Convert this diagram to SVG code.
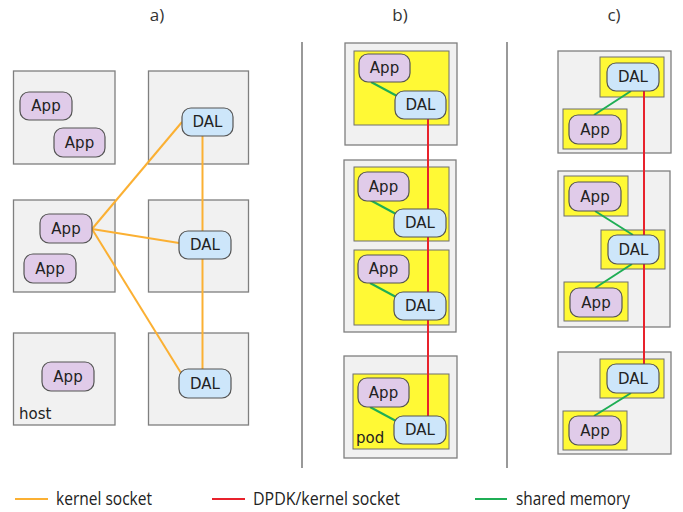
<svg xmlns="http://www.w3.org/2000/svg" width="683" height="512" viewBox="0 0 683 512">
  <style>
    .host { fill: #f1f1f1; stroke: #7f7f7f; stroke-width: 1.3; }
    .pod { fill: #fff935; stroke: #6f6f6f; stroke-width: 1; }
    .app { fill: #e0cbe9; stroke: #555; stroke-width: 1.2; }
    .dal { fill: #cde6fa; stroke: #555; stroke-width: 1.2; }
    .lbl { font-family: "DejaVu Sans", sans-serif; font-size: 15px; fill: #222; }
    .nl { font-family: "DejaVu Sans", sans-serif; font-size: 15px; fill: #222; text-anchor: middle; dominant-baseline: central; }
    .title { font-family: "Open Sans", "Liberation Sans", sans-serif; font-size: 17px; fill: #333; text-anchor: middle; }
    .leg { font-family: "Open Sans", "Liberation Sans", sans-serif; font-size: 18px; fill: #222; }
    .k { stroke: #fbb033; stroke-width: 2; fill: none; }
    .d { stroke: #e8222c; stroke-width: 2; fill: none; }
    .s { stroke: #1fae55; stroke-width: 2; fill: none; }
    .sep { stroke: #555; stroke-width: 1.2; }
  </style>

  <!-- panel titles -->
  <text class="title" x="157" y="21">a)</text>
  <text class="title" x="400" y="21">b)</text>
  <text class="title" x="614" y="21">c)</text>

  <!-- panel separators -->
  <line class="sep" x1="302" y1="42" x2="302" y2="468"/>
  <line class="sep" x1="507" y1="42" x2="507" y2="468"/>

  <!-- ===== panel a: hosts ===== -->
  <g id="a-host1"><rect class="host" x="13.5" y="71" width="101.5" height="93"/></g>
  <g id="a-host2"><rect class="host" x="13.5" y="200" width="101.5" height="92"/></g>
  <g id="a-host3"><rect class="host" x="13.5" y="333" width="101.5" height="92"/>
    <text class="lbl" x="19" y="419">host</text></g>
  <g id="a-host4"><rect class="host" x="148.5" y="71" width="100" height="93"/></g>
  <g id="a-host5"><rect class="host" x="148.5" y="200" width="100" height="92"/></g>
  <g id="a-host6"><rect class="host" x="148.5" y="333" width="100" height="92"/></g>

  <!-- panel a connectors (kernel socket) -->
  <g id="a-links">
    <line class="k" x1="92" y1="229" x2="182" y2="122"/>
    <line class="k" x1="92" y1="229" x2="179" y2="243"/>
    <line class="k" x1="92" y1="229" x2="181" y2="373"/>
    <line class="k" x1="202.5" y1="136" x2="202.5" y2="369"/>
  </g>

  <g id="a-app1"><rect class="app" x="20" y="92" width="52" height="28" rx="9"/><text class="nl" x="46" y="106">App</text></g>
  <g id="a-app2"><rect class="app" x="54" y="128" width="51" height="29" rx="9"/><text class="nl" x="79.5" y="142.5">App</text></g>
  <g id="a-app3"><rect class="app" x="40" y="214" width="52" height="29" rx="9"/><text class="nl" x="66" y="228.5">App</text></g>
  <g id="a-app4"><rect class="app" x="24" y="254" width="52" height="29" rx="9"/><text class="nl" x="50" y="268.5">App</text></g>
  <g id="a-app5"><rect class="app" x="42" y="362" width="52" height="29" rx="9"/><text class="nl" x="68" y="376.5">App</text></g>
  <g id="a-dal1"><rect class="dal" x="182" y="108" width="51" height="28" rx="9"/><text class="nl" x="207.5" y="122">DAL</text></g>
  <g id="a-dal2"><rect class="dal" x="179" y="231" width="52" height="28" rx="9"/><text class="nl" x="205" y="245">DAL</text></g>
  <g id="a-dal3"><rect class="dal" x="179" y="369" width="52" height="29" rx="9"/><text class="nl" x="205" y="383.5">DAL</text></g>

  <!-- ===== panel b: hosts with pods ===== -->
  <g id="b-host1"><rect class="host" x="345" y="43" width="112" height="102"/>
    <rect class="pod" x="354" y="51" width="95" height="74"/></g>
  <g id="b-host2"><rect class="host" x="344" y="160" width="112" height="172"/>
    <rect class="pod" x="354" y="167" width="95" height="74"/>
    <rect class="pod" x="354" y="250" width="95" height="75"/></g>
  <g id="b-host3"><rect class="host" x="344" y="356" width="113" height="102"/>
    <rect class="pod" x="353" y="374" width="96" height="75"/>
    <text class="lbl" x="356" y="443">pod</text></g>

  <!-- panel b connectors -->
  <g id="b-links">
    <line class="d" x1="428" y1="119" x2="428" y2="416"/>
    <line class="s" x1="371" y1="82" x2="397" y2="96"/>
    <line class="s" x1="370" y1="200" x2="396" y2="214"/>
    <line class="s" x1="370" y1="283" x2="396" y2="297"/>
    <line class="s" x1="370" y1="407" x2="396" y2="421"/>
  </g>

  <g id="b-app1"><rect class="app" x="359" y="54" width="51" height="28" rx="9"/><text class="nl" x="384.5" y="68">App</text></g>
  <g id="b-dal1"><rect class="dal" x="395" y="91" width="51" height="28" rx="9"/><text class="nl" x="420.5" y="105">DAL</text></g>
  <g id="b-app2"><rect class="app" x="358" y="172" width="51" height="29" rx="9"/><text class="nl" x="383.5" y="186.5">App</text></g>
  <g id="b-dal2"><rect class="dal" x="394" y="209" width="52" height="28" rx="9"/><text class="nl" x="420" y="223">DAL</text></g>
  <g id="b-app3"><rect class="app" x="358" y="255" width="51" height="28" rx="9"/><text class="nl" x="383.5" y="269">App</text></g>
  <g id="b-dal3"><rect class="dal" x="394" y="292" width="52" height="28" rx="9"/><text class="nl" x="420" y="306">DAL</text></g>
  <g id="b-app4"><rect class="app" x="358" y="378" width="51" height="29" rx="9"/><text class="nl" x="383.5" y="392.5">App</text></g>
  <g id="b-dal4"><rect class="dal" x="394" y="416" width="52" height="28" rx="9"/><text class="nl" x="420" y="430">DAL</text></g>

  <!-- ===== panel c: one pod per container ===== -->
  <g id="c-host1"><rect class="host" x="558" y="51" width="113" height="102"/>
    <rect class="pod" x="600" y="57" width="64" height="40"/>
    <rect class="pod" x="563" y="109" width="64" height="40"/></g>
  <g id="c-host2"><rect class="host" x="558" y="171" width="112" height="156"/>
    <rect class="pod" x="564" y="176" width="64" height="40"/>
    <rect class="pod" x="601" y="230" width="64" height="39"/>
    <rect class="pod" x="564" y="282" width="64" height="39"/></g>
  <g id="c-host3"><rect class="host" x="558" y="352" width="113" height="102"/>
    <rect class="pod" x="600" y="359" width="64" height="39"/>
    <rect class="pod" x="563" y="411" width="64" height="39"/></g>

  <!-- panel c connectors -->
  <g id="c-links">
    <line class="d" x1="644" y1="91" x2="644" y2="364"/>
    <line class="s" x1="631" y1="91" x2="594" y2="115"/>
    <line class="s" x1="595" y1="211" x2="633" y2="235"/>
    <line class="s" x1="632" y1="264" x2="595" y2="288"/>
    <line class="s" x1="631" y1="393" x2="594" y2="416"/>
  </g>

  <g id="c-dal1"><rect class="dal" x="607" y="63" width="52" height="28" rx="9"/><text class="nl" x="633" y="77">DAL</text></g>
  <g id="c-app1"><rect class="app" x="569" y="115" width="52" height="29" rx="9"/><text class="nl" x="595" y="129.5">App</text></g>
  <g id="c-app2"><rect class="app" x="569" y="182" width="52" height="29" rx="9"/><text class="nl" x="595" y="196.5">App</text></g>
  <g id="c-dal2"><rect class="dal" x="608" y="235" width="51" height="29" rx="9"/><text class="nl" x="633.5" y="249.5">DAL</text></g>
  <g id="c-app3"><rect class="app" x="570" y="288" width="52" height="29" rx="9"/><text class="nl" x="596" y="302.5">App</text></g>
  <g id="c-dal3"><rect class="dal" x="607" y="364" width="52" height="29" rx="9"/><text class="nl" x="633" y="378.5">DAL</text></g>
  <g id="c-app4"><rect class="app" x="569" y="416" width="52" height="29" rx="9"/><text class="nl" x="595" y="430.5">App</text></g>

  <!-- legend -->
  <g id="legend">
    <line class="k" x1="15" y1="499" x2="48" y2="499"/>
    <text class="leg" x="56" y="505" textLength="96" lengthAdjust="spacingAndGlyphs">kernel socket</text>
    <line class="d" x1="212" y1="499" x2="245" y2="499"/>
    <text class="leg" x="253" y="505" textLength="147" lengthAdjust="spacingAndGlyphs">DPDK/kernel socket</text>
    <line class="s" x1="475" y1="499" x2="507" y2="499"/>
    <text class="leg" x="516" y="505" textLength="114" lengthAdjust="spacingAndGlyphs">shared memory</text>
  </g>
</svg>
